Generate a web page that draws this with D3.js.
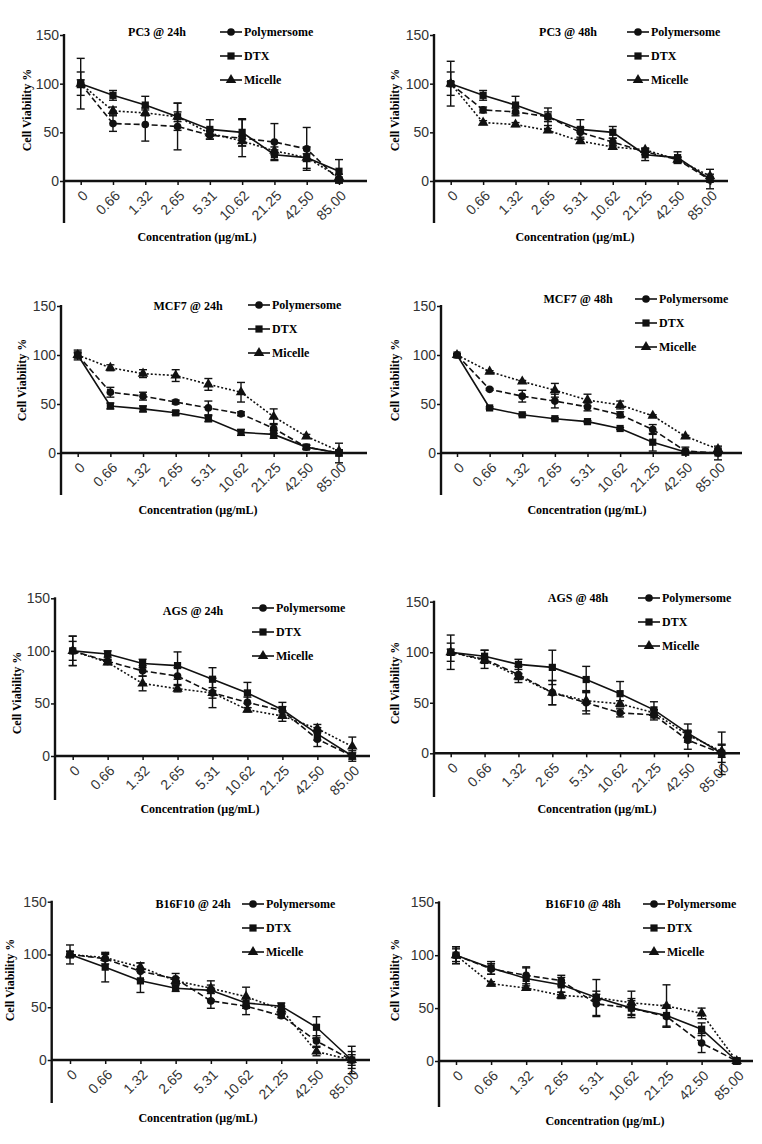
<!DOCTYPE html>
<html>
<head>
<meta charset="utf-8">
<script src="https://cdn.jsdelivr.net/npm/d3@7"></script>
<style>
  body { margin: 0; background: #fff; }
</style>
</head>
<body>
<div id="chart"></div>
<script>
const categories = ["0", "0.66", "1.32", "2.65", "5.31", "10.62", "21.25", "42.50", "85.00"];
const seriesNames = ["Polymersome", "DTX", "Micelle"];
const yTicks = [0, 50, 100, 150];
const panelTitles = ["PC3 @ 24h", "PC3 @ 48h", "MCF7 @ 24h", "MCF7 @ 48h",
                     "AGS @ 24h", "AGS @ 48h", "B16F10 @ 24h", "B16F10 @ 48h"];

// mean viability, rows = [Polymersome, DTX, Micelle]
const pc3_24h = [[100, 59, 58, 56, 47, 44, 40, 33, 1],
                 [100, 88, 78, 66, 53, 50, 27, 24, 10],
                 [100, 72, 70, 66, 49, 41, 31, 24, 4]];
const pc3_24h_sd = [[12, 8, 17, 24, 4, 19, 19, 22, 3],
                    [26, 5, 9, 14, 10, 14, 5, 4, 12],
                    [4, 4, 3, 5, 3, 5, 4, 11, 3]];

const pc3_48h = [[100, 73, 71, 66, 50, 40, 30, 22, 1],
                 [100, 88, 78, 66, 53, 50, 27, 24, 2],
                 [100, 60, 58, 52, 41, 35, 32, 22, 5]];
const pc3_48h_sd = [[12, 3, 4, 5, 5, 4, 3, 3, 2],
                    [23, 5, 9, 9, 10, 6, 6, 6, 10],
                    [2, 2, 2, 2, 2, 2, 2, 2, 2]];

const mcf7_24h = [[100, 62, 58, 52, 46, 40, 25, 6, 0],
                  [100, 48, 45, 41, 35, 21, 19, 6, 0],
                  [100, 87, 81, 79, 70, 62, 37, 17, 2]];
const mcf7_24h_sd = [[5, 5, 4, 2, 7, 2, 5, 2, 10],
                     [3, 3, 3, 2, 3, 3, 4, 2, 3],
                     [2, 3, 4, 6, 6, 10, 8, 2, 1]];

const mcf7_48h = [[100, 65, 58, 53, 47, 39, 24, 2, 0],
                  [100, 46, 39, 35, 32, 25, 11, 1, 0],
                  [100, 83, 73, 64, 54, 49, 38, 17, 4]];
const mcf7_48h_sd = [[1, 1, 6, 7, 4, 3, 5, 4, 7],
                     [1, 1, 1, 1, 1, 1, 9, 1, 1],
                     [1, 1, 1, 7, 6, 4, 1, 1, 1]];

const ags_24h = [[100, 90, 81, 76, 60, 51, 43, 16, 0],
                 [100, 97, 88, 86, 73, 60, 44, 21, 0],
                 [100, 89, 69, 64, 60, 44, 38, 26, 9]];
const ags_24h_sd = [[9, 2, 5, 8, 14, 5, 4, 7, 5],
                    [14, 3, 4, 13, 11, 10, 7, 6, 3],
                    [14, 2, 7, 3, 5, 2, 5, 4, 9]];

const ags_48h = [[100, 93, 78, 60, 50, 40, 38, 13, 0],
                 [100, 96, 88, 85, 73, 59, 43, 20, 0],
                 [100, 92, 76, 60, 52, 49, 40, 18, 2]];
const ags_48h_sd = [[9, 9, 8, 12, 11, 4, 5, 9, 9],
                    [17, 6, 5, 17, 13, 12, 8, 9, 21],
                    [3, 3, 3, 12, 10, 3, 3, 3, 6]];

const b16_24h = [[100, 96, 84, 77, 56, 51, 42, 18, 0],
                 [100, 88, 75, 68, 66, 54, 51, 31, 0],
                 [100, 97, 88, 75, 68, 60, 48, 8, 0]];
const b16_24h_sd = [[3, 5, 8, 5, 7, 8, 2, 5, 8],
                    [9, 14, 11, 3, 9, 5, 3, 10, 13],
                    [3, 3, 4, 3, 3, 9, 3, 4, 5]];

const b16_48h = [[100, 87, 81, 76, 54, 50, 42, 17, 0],
                 [100, 88, 78, 72, 60, 50, 43, 30, 0],
                 [100, 73, 69, 62, 60, 55, 52, 45, 0]];
const b16_48h_sd = [[6, 5, 8, 5, 12, 7, 10, 9, 2],
                    [8, 6, 10, 7, 17, 9, 10, 6, 3],
                    [8, 2, 2, 3, 3, 11, 20, 5, 2]];

const panelMeans = [pc3_24h, pc3_48h, mcf7_24h, mcf7_48h, ags_24h, ags_48h, b16_24h, b16_48h];
const panelSds = [pc3_24h_sd, pc3_48h_sd, mcf7_24h_sd, mcf7_48h_sd, ags_24h_sd, ags_48h_sd, b16_24h_sd, b16_48h_sd];

// pixel layout of each panel (axis x, first/last point, y of 0 and 150, etc.)
const layout = [
  {ax: 64,  x0: 80.7, x8: 339,   xEnd: 367, y0: 181,  y150: 35,    yBot: 223,  tx: 157, ty: 32,  lx: 220, ly: 32,  xl: 197, xly: 237,  yl: 27,  yly: 110},
  {ax: 434, x0: 450.7, x8: 710,  xEnd: 728, y0: 181,  y150: 35,    yBot: 223,  tx: 568, ty: 32,  lx: 627, ly: 32,  xl: 575, xly: 237,  yl: 395, yly: 110},
  {ax: 61,  x0: 77.7, x8: 339,   xEnd: 367, y0: 453,  y150: 306,   yBot: 495,  tx: 188, ty: 306, lx: 248, ly: 305, xl: 198, xly: 510,  yl: 22,  yly: 380},
  {ax: 441, x0: 457,  x8: 718,   xEnd: 742, y0: 453,  y150: 306,   yBot: 495,  tx: 578, ty: 299, lx: 635, ly: 299, xl: 587, xly: 510,  yl: 395, yly: 380},
  {ax: 55,  x0: 72.7, x8: 352.3, xEnd: 370, y0: 756,  y150: 598.3, yBot: 800,  tx: 193, ty: 611, lx: 252, ly: 608, xl: 200, xly: 809,  yl: 17,  yly: 693},
  {ax: 434, x0: 450.7, x8: 721.7,xEnd: 740, y0: 753.3,y150: 601.7, yBot: 797,  tx: 578, ty: 598, lx: 638, ly: 598, xl: 597, xly: 809,  yl: 395, yly: 683},
  {ax: 51.7,x0: 70,   x8: 351.7, xEnd: 370, y0: 1060, y150: 901.7, yBot: 1103, tx: 193, ty: 904, lx: 242, ly: 904, xl: 198, xly: 1118, yl: 10,  yly: 980},
  {ax: 439, x0: 456,  x8: 736.7, xEnd: 753, y0: 1061, y150: 902.3, yBot: 1107, tx: 583, ty: 904, lx: 643, ly: 904, xl: 605, xly: 1121, yl: 395, yly: 980}
];

const serif = "'Liberation Serif', 'Times New Roman', serif";
const sans = "'Liberation Sans', Arial, sans-serif";
const dashes = ["6,3", null, "2,2"];
const symbols = [d3.symbolCircle, d3.symbolSquare, d3.symbolTriangle];
const symSizes = [46, 52, 48];

const svg = d3.select("#chart")
  .append("svg")
  .attr("width", 762)
  .attr("height", 1144)
  .style("background", "#fff");

function drawPanel(i) {
  const L = layout[i];
  const means = panelMeans[i];
  const sds = panelSds[i];
  const g = svg.append("g");

  const x = d3.scalePoint().domain(categories).range([L.x0, L.x8]);
  const y = d3.scaleLinear().domain([0, 150]).range([L.y0, L.y150]);

  // y axis
  const yAxis = g.append("g")
    .attr("transform", `translate(${L.ax},0)`)
    .call(d3.axisLeft(y).tickValues(yTicks).tickSize(4).tickPadding(1));
  yAxis.select(".domain").remove();
  yAxis.selectAll(".tick line").attr("stroke", "#111").attr("stroke-width", 1.5);
  yAxis.selectAll(".tick text")
    .style("font-family", sans).style("font-size", "14px").attr("fill", "#333");

  // x axis
  const xAxis = g.append("g")
    .attr("transform", `translate(0,${L.y0})`)
    .call(d3.axisBottom(x).tickSize(4));
  xAxis.select(".domain").remove();
  xAxis.selectAll(".tick line").attr("stroke", "#111").attr("stroke-width", 1.5);
  xAxis.selectAll(".tick text")
    .style("font-family", sans).style("font-size", "14px").attr("fill", "#333")
    .attr("x", 0).attr("y", 0).attr("dy", "0.35em")
    .style("text-anchor", "end")
    .attr("transform", "translate(4,12) rotate(-45)");

  // axis lines
  g.append("line")
    .attr("x1", L.ax).attr("x2", L.ax).attr("y1", L.y150 - 1).attr("y2", L.yBot)
    .attr("stroke", "#111").attr("stroke-width", 2.4);
  g.append("line")
    .attr("x1", L.ax).attr("x2", L.xEnd).attr("y1", L.y0).attr("y2", L.y0)
    .attr("stroke", "#111").attr("stroke-width", 2.4);

  const order = [2, 0, 1];
  // error bars
  order.forEach(s => {
    const pts = categories.map((c, k) => ({c, m: means[s][k], e: sds[s][k]}));
    const eb = g.append("g").attr("stroke", "#111").attr("stroke-width", 1.4);
    pts.forEach(p => {
      eb.append("line")
        .attr("x1", x(p.c)).attr("x2", x(p.c))
        .attr("y1", y(p.m - p.e)).attr("y2", y(p.m + p.e));
      [p.m - p.e, p.m + p.e].forEach(v => {
        eb.append("line")
          .attr("x1", x(p.c) - 4).attr("x2", x(p.c) + 4)
          .attr("y1", y(v)).attr("y2", y(v));
      });
    });
  });

  // lines
  const line = d3.line().x(d => x(d.c)).y(d => y(d.m));
  order.forEach(s => {
    const pts = categories.map((c, k) => ({c, m: means[s][k]}));
    g.append("path")
      .datum(pts)
      .attr("d", line)
      .attr("fill", "none")
      .attr("stroke", "#111")
      .attr("stroke-width", 1.6)
      .attr("stroke-dasharray", dashes[s]);
  });

  // markers
  order.forEach(s => {
    g.selectAll(null)
      .data(categories.map((c, k) => ({c, m: means[s][k]})))
      .join("path")
      .attr("transform", d => `translate(${x(d.c)},${y(d.m)})`)
      .attr("d", d3.symbol().type(symbols[s]).size(symSizes[s]))
      .attr("fill", "#111");
  });

  // title
  g.append("text")
    .attr("x", L.tx).attr("y", L.ty).attr("dy", "0.35em")
    .style("text-anchor", "middle")
    .style("font-family", serif).style("font-size", "12px").style("font-weight", "bold")
    .text(panelTitles[i]);

  // legend
  seriesNames.forEach((name, s) => {
    const ly = L.ly + s * 24;
    g.append("line")
      .attr("x1", L.lx).attr("x2", L.lx + 22).attr("y1", ly).attr("y2", ly)
      .attr("stroke", "#111").attr("stroke-width", 1.6);
    g.append("path")
      .attr("transform", `translate(${L.lx + 11},${ly})`)
      .attr("d", d3.symbol().type(symbols[s]).size(symSizes[s]))
      .attr("fill", "#111");
    g.append("text")
      .attr("x", L.lx + 24).attr("y", ly).attr("dy", "0.35em")
      .style("font-family", serif).style("font-size", "12px").style("font-weight", "bold")
      .text(name);
  });

  // axis titles
  g.append("text")
    .attr("x", L.xl).attr("y", L.xly).attr("dy", "0.35em")
    .style("text-anchor", "middle")
    .style("font-family", serif).style("font-size", "12px").style("font-weight", "bold")
    .text("Concentration (µg/mL)");
  g.append("text")
    .attr("transform", `translate(${L.yl},${L.yly}) rotate(-90)`)
    .attr("dy", "0.35em")
    .style("text-anchor", "middle")
    .style("font-family", serif).style("font-size", "12px").style("font-weight", "bold")
    .text("Cell Viability %");
}

d3.range(8).forEach(drawPanel);
</script>
</body>
</html>
